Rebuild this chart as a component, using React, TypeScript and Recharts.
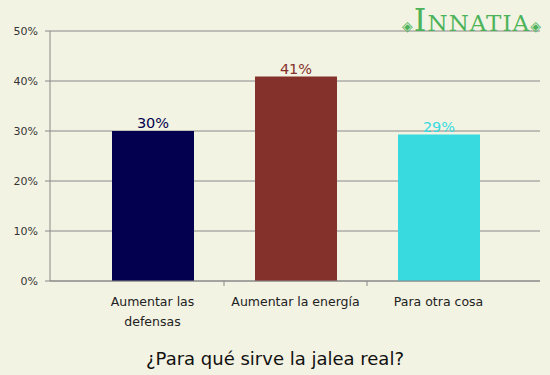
import { BarChart, Bar, XAxis, YAxis, CartesianGrid, Cell, LabelList } from "recharts"

const categories = ["Aumentar las defensas", "Aumentar la energía", "Para otra cosa"]
const tickLines = [["Aumentar las", "defensas"], ["Aumentar la energía"], ["Para otra cosa"]]
const values = [30, 40.9, 29.3]
const colors = ["#03004F", "#85312B", "#38DADF"]
const yTicks = [0, 10, 20, 30, 40, 50]

const data = categories.map((name, i) => ({ name, value: values[i], color: colors[i] }))

const BG = "#F3F3E3"
const FONT = "'DejaVu Sans', Verdana, sans-serif"

const CatTick = ({ x, y, payload, index }: any) => {
  const lines = tickLines[index] || [payload.value]
  const half = payload.offset ?? 71.5
  return (
    <g>
      {index < categories.length - 1 && (
        <line x1={x + half} x2={x + half} y1={y - 8} y2={y - 3} stroke="#888" />
      )}
      <text x={x} y={y + 17} textAnchor="middle" fontSize={12.5} fill="#222" fontFamily={FONT}>
        {lines.map((l: string, k: number) => (
          <tspan key={k} x={x} dy={k === 0 ? 0 : 20}>
            {l}
          </tspan>
        ))}
      </text>
    </g>
  )
}

const ValueLabel = ({ x, y, width, value, index }: any) => (
  <text
    x={x + width / 2}
    y={y - 3}
    textAnchor="middle"
    fontSize={14.5}
    fill={colors[index]}
    fontFamily={FONT}
  >
    {Math.round(value)}%
  </text>
)

export default function App() {
  return (
    <div style={{ position: "absolute", left: 0, top: 0, width: 550, height: 375, background: BG }}>
      <BarChart
        width={550}
        height={375}
        data={data}
        margin={{ top: 31, right: 10, left: 0, bottom: 34 }}
        barSize={82}
      >
        <CartesianGrid vertical={false} stroke="#888" strokeWidth={1} />
        <XAxis
          dataKey="name"
          height={60}
          padding={{ left: 31, right: 30 }}
          axisLine={{ stroke: "#888" }}
          tickLine={false}
          interval={0}
          tick={<CatTick />}
        />
        <YAxis
          width={50}
          domain={[0, 50]}
          ticks={yTicks}
          tickFormatter={(v) => `${v}%`}
          axisLine={{ stroke: "#888" }}
          tickLine={{ stroke: "#888" }}
          tickSize={5}
          tickMargin={7}
          tick={{ fontSize: 11, fill: "#333", fontFamily: FONT }}
        />
        <Bar dataKey="value" isAnimationActive={false}>
          {data.map((d, i) => (
            <Cell key={i} fill={d.color} />
          ))}
          <LabelList dataKey="value" content={<ValueLabel />} />
        </Bar>
      </BarChart>
      <div
        style={{
          position: "absolute",
          left: 397,
          top: 5,
          width: 150,
          textAlign: "center",
          color: "#4DB35A",
          fontFamily: "'DejaVu Serif', serif",
          fontSize: 23,
          letterSpacing: 1,
          lineHeight: "30px",
        }}
      >
        <span style={{ fontSize: 14 }}>◈</span>
        <span style={{ fontSize: 32 }}>I</span>NNATIA
        <span style={{ fontSize: 14 }}>◈</span>
      </div>
      <div
        style={{
          position: "absolute",
          left: 0,
          top: 348,
          width: 550,
          textAlign: "center",
          fontFamily: FONT,
          fontSize: 18,
          color: "#111",
        }}
      >
        ¿Para qué sirve la jalea real?
      </div>
    </div>
  )
}
